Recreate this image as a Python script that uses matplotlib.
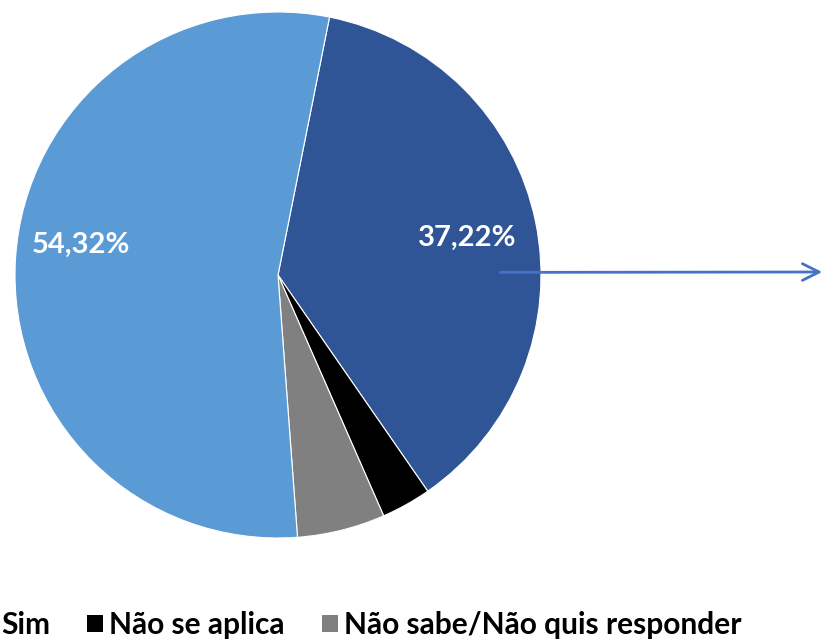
import matplotlib
matplotlib.use("Agg")
import matplotlib.pyplot as plt
from matplotlib.patches import Patch

# dados
rotulos = ["Não", "Não se aplica", "Não sabe/Não quis responder", "Sim"]
valores = [37.22, 3.06, 5.40, 54.32]
cores = ["#2F5597", "#000000", "#808080", "#5B9BD5"]

legenda_rotulos = ["Sim", "Não se aplica", "Não sabe/Não quis responder"]
legenda_cores = ["#5B9BD5", "#000000", "#808080"]

plt.rcParams['font.family'] = ['Lato', 'DejaVu Sans']

W, H = 823, 640
fig = plt.figure(figsize=(W / 100, H / 100), dpi=100)

# eixo do grafico de pizza (centro ~ (278,275) px, raio ~263 px)
cx, cy, r = 278, 275, 263
ax = fig.add_axes([(cx - r) / W, (H - cy - r) / H, 2 * r / W, 2 * r / H])

def fmt(p):
    if p < 10:
        return ""
    return f"{p:.2f}%".replace(".", ",")

wedges, textos, autotextos = ax.pie(
    valores, colors=cores, startangle=78.7, counterclock=False,
    autopct=fmt, pctdistance=0.75, radius=1,
    wedgeprops=dict(linewidth=0.8, edgecolor="white"),
    textprops=dict(color="white", fontsize=21, fontweight="bold"))
# posicao dos rotulos como no original
autotextos[0].set_position((0.72, 0.14))
autotextos[3].set_position((-0.75, 0.115))

ax.set_xlim(-1, 1)
ax.set_ylim(-1, 1)
ax.set_aspect("equal")
ax.axis("off")

# seta para a direita (grafico de barras fora do recorte)
ax.annotate("", xy=(0.999, 1 - 272 / H), xycoords="figure fraction",
            xytext=(0.845, 0.01), textcoords="data",
            arrowprops=dict(arrowstyle="->", color="#4472C4", lw=2,
                            mutation_scale=30, shrinkA=0, shrinkB=0),
            annotation_clip=False)

handles = [Patch(facecolor=c, edgecolor="none") for c in legenda_cores]
leg = fig.legend(handles, legenda_rotulos, ncol=3, frameon=False,
                 loc="center left", bbox_to_anchor=(0, 1 - 625 / H),
                 prop=dict(size=21.5, weight="bold"), handlelength=0.53,
                 handleheight=0.53, handletextpad=0.2, columnspacing=1.25,
                 borderaxespad=0, borderpad=0)

# desloca a legenda para que "Sim" comece na borda esquerda
fig.canvas.draw()
x0 = leg.get_texts()[0].get_window_extent().x0
leg.set_bbox_to_anchor((-(x0 - 1) / W, 1 - 625 / H))

fig.savefig("out.png", dpi=100)
